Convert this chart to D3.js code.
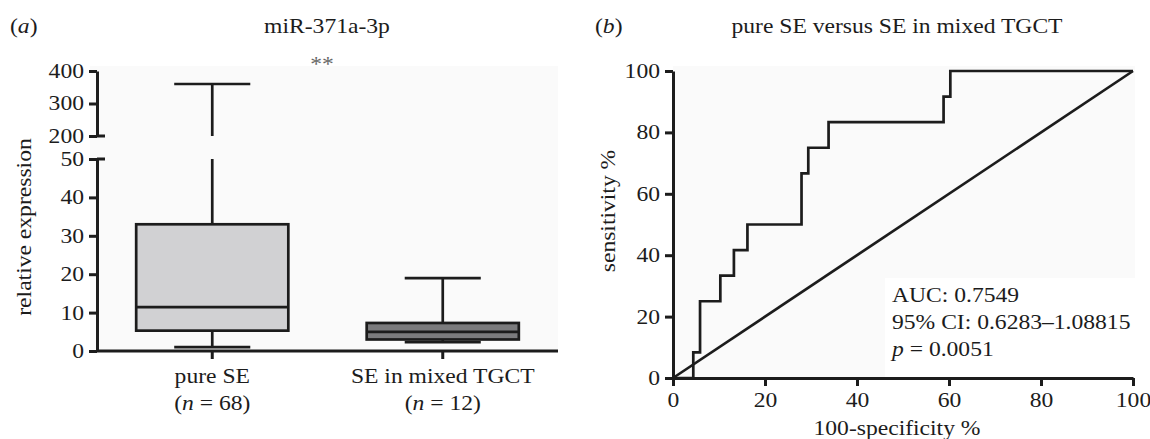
<!DOCTYPE html>
<html>
<head>
<meta charset="utf-8">
<script src="https://cdn.jsdelivr.net/npm/d3@7"></script>
<style>
  body { margin: 0; background: #fff; }
  svg { display: block; font-family: 'Liberation Serif', 'Times New Roman', serif; }
</style>
</head>
<body>
<div id="vis"></div>
<script>
// panel (a): box plot of miR-371a-3p
const groups = ['pure SE', 'SE in mixed TGCT']
const groupN = [68, 12]
const boxMin = [1, 2.3]
const boxQ1 = [5.3, 3]
const boxMedian = [11.4, 5]
const boxQ3 = [33, 7.3]
const boxMax = [360, 19]
const boxFill = ['#d1d1d3', '#7b7b7d']
const lowTicks = [0, 10, 20, 30, 40, 50]
const highTicks = [200, 300, 400]

// panel (b): ROC curve
const rocFpr = [0, 4.41, 4.41, 5.88, 5.88, 10.29, 10.29, 13.24, 13.24, 16.18, 16.18, 27.94, 27.94, 29.41, 29.41, 33.82, 33.82, 58.82, 58.82, 60.29, 60.29, 100]
const rocTpr = [0, 0, 8.33, 8.33, 25, 25, 33.33, 33.33, 41.67, 41.67, 50, 50, 66.67, 66.67, 75, 75, 83.33, 83.33, 91.67, 91.67, 100, 100]
const rocTicks = [0, 20, 40, 60, 80, 100]
const statsLines = ['AUC: 0.7549', '95% CI: 0.6283\u20131.08815', 'p = 0.0051']

const ink = '#1c1c1c'
const fontSize = 20
const sx = 1.18 // the original type is set a little wide
const axisStroke = 3
const markStroke = 2.7

const svg = d3.select('#vis').append('svg')
  .attr('width', 1150)
  .attr('height', 439)

// widen text horizontally around its anchor point
function stretch(sel) {
  sel.each(function () {
    const el = d3.select(this)
    const x = +el.attr('x') || 0
    const y = +el.attr('y') || 0
    const prev = el.attr('transform') || ''
    el.attr('x', null).attr('y', null)
      .attr('transform', `${prev} translate(${x},${y}) scale(${sx},1)`)
  })
}

function styleAxis(g) {
  g.select('.domain').attr('stroke', ink).attr('stroke-width', axisStroke)
  g.selectAll('.tick line').attr('stroke', ink).attr('stroke-width', axisStroke)
  g.selectAll('.tick text')
    .attr('fill', ink)
    .style('font-size', fontSize + 'px')
    .style('font-family', 'Liberation Serif, serif')
    .call(stretch)
}

function label(x, y, str, anchor) {
  return svg.append('text')
    .attr('x', x).attr('y', y)
    .attr('text-anchor', anchor || 'start')
    .attr('fill', ink)
    .style('font-size', fontSize + 'px')
    .text(str)
}

// ---------- panel (a) ----------
const yLow = d3.scaleLinear().domain([0, 50]).range([351, 159])
const yHigh = d3.scaleLinear().domain([200, 400]).range([136, 71])
const xBand = d3.scaleBand().domain(groups).range([97, 558])

svg.append('rect')
  .attr('x', 90).attr('y', 66)
  .attr('width', 468).attr('height', 285)
  .attr('fill', '#fafafa')

const lowAxis = svg.append('g')
  .attr('transform', 'translate(97,0)')
  .call(d3.axisLeft(yLow).tickValues(lowTicks).tickSize(8).tickSizeOuter(0).tickPadding(5))
styleAxis(lowAxis)

const highAxis = svg.append('g')
  .attr('transform', 'translate(97,0)')
  .call(d3.axisLeft(yHigh).tickValues(highTicks).tickSize(8).tickSizeOuter(0).tickPadding(5))
styleAxis(highAxis)

// break marks extend to the right
;[yLow(50), yHigh(200)].forEach(y => {
  svg.append('line')
    .attr('x1', 97).attr('x2', 105)
    .attr('y1', y).attr('y2', y)
    .attr('stroke', ink).attr('stroke-width', axisStroke)
})

const xAxisA = svg.append('g')
  .attr('transform', `translate(0,${yLow(0)})`)
  .call(d3.axisBottom(xBand).tickSize(8).tickSizeOuter(0).tickFormat(''))
styleAxis(xAxisA)
xAxisA.select('.domain').attr('d', 'M97,0H558')

// category labels
groups.forEach((name, i) => {
  const cx = xBand(name) + xBand.bandwidth() / 2
  label(cx, 383, name, 'middle').call(stretch)
  const t = label(cx, 410, '', 'middle')
  t.append('tspan').text('(')
  t.append('tspan').style('font-style', 'italic').text('n')
  t.append('tspan').text(' = ' + groupN[i] + ')')
  t.call(stretch)
})

// boxes
const boxW = xBand.bandwidth() * 0.66
const capW = xBand.bandwidth() * 0.33
groups.forEach((name, i) => {
  const cx = xBand(name) + xBand.bandwidth() / 2
  const g = svg.append('g')
    .attr('stroke', ink).attr('stroke-width', markStroke).attr('fill', 'none')

  // upper whisker (may cross the axis break)
  if (boxMax[i] > 50) {
    g.append('line').attr('x1', cx).attr('x2', cx)
      .attr('y1', yLow(boxQ3[i])).attr('y2', yLow(50))
    g.append('line').attr('x1', cx).attr('x2', cx)
      .attr('y1', yHigh(200)).attr('y2', yHigh(boxMax[i]))
    g.append('line').attr('x1', cx - capW / 2).attr('x2', cx + capW / 2)
      .attr('y1', yHigh(boxMax[i])).attr('y2', yHigh(boxMax[i]))
  } else {
    g.append('line').attr('x1', cx).attr('x2', cx)
      .attr('y1', yLow(boxQ3[i])).attr('y2', yLow(boxMax[i]))
    g.append('line').attr('x1', cx - capW / 2).attr('x2', cx + capW / 2)
      .attr('y1', yLow(boxMax[i])).attr('y2', yLow(boxMax[i]))
  }
  // lower whisker
  g.append('line').attr('x1', cx).attr('x2', cx)
    .attr('y1', yLow(boxQ1[i])).attr('y2', yLow(boxMin[i]))
  g.append('line').attr('x1', cx - capW / 2).attr('x2', cx + capW / 2)
    .attr('y1', yLow(boxMin[i])).attr('y2', yLow(boxMin[i]))

  g.append('rect')
    .attr('x', cx - boxW / 2)
    .attr('y', yLow(boxQ3[i]))
    .attr('width', boxW)
    .attr('height', yLow(boxQ1[i]) - yLow(boxQ3[i]))
    .attr('fill', boxFill[i])
  g.append('line').attr('x1', cx - boxW / 2).attr('x2', cx + boxW / 2)
    .attr('y1', yLow(boxMedian[i])).attr('y2', yLow(boxMedian[i]))
})

// titles and labels (a)
label(10, 33, '').call(t => {
  t.append('tspan').text('(')
  t.append('tspan').style('font-style', 'italic').text('a')
  t.append('tspan').text(')')
}).call(stretch)
label(327, 33, 'miR-371a-3p', 'middle').call(stretch)
label(322, 71, '**', 'middle').attr('fill', '#666').call(stretch)
svg.append('text')
  .attr('transform', 'translate(31,227) rotate(-90)')
  .attr('text-anchor', 'middle').attr('fill', ink)
  .style('font-size', fontSize + 'px')
  .text('relative expression')
  .call(stretch)

// ---------- panel (b) ----------
const xRoc = d3.scaleLinear().domain([0, 100]).range([673, 1133])
const yRoc = d3.scaleLinear().domain([0, 100]).range([378, 71])

svg.append('rect')
  .attr('x', 673).attr('y', 66)
  .attr('width', 462).attr('height', 312)
  .attr('fill', '#fafafa')
svg.append('rect')
  .attr('x', 885).attr('y', 278)
  .attr('width', 250).attr('height', 100)
  .attr('fill', '#fff')

const xAxisB = svg.append('g')
  .attr('transform', `translate(0,${yRoc(0)})`)
  .call(d3.axisBottom(xRoc).tickValues(rocTicks).tickSize(8).tickSizeOuter(0).tickPadding(7))
styleAxis(xAxisB)

const yAxisB = svg.append('g')
  .attr('transform', `translate(${xRoc(0)},0)`)
  .call(d3.axisLeft(yRoc).tickValues(rocTicks).tickSize(8).tickSizeOuter(0).tickPadding(5))
styleAxis(yAxisB)

// reference diagonal
svg.append('line')
  .attr('x1', xRoc(0)).attr('y1', yRoc(0))
  .attr('x2', xRoc(100)).attr('y2', yRoc(100))
  .attr('stroke', ink).attr('stroke-width', markStroke)

const rocPoints = rocFpr.map((f, i) => [f, rocTpr[i]])
svg.append('path')
  .datum(rocPoints)
  .attr('d', d3.line().x(d => xRoc(d[0])).y(d => yRoc(d[1])))
  .attr('fill', 'none')
  .attr('stroke', ink)
  .attr('stroke-width', markStroke)
  .attr('stroke-linejoin', 'miter')

// stats text
statsLines.forEach((line, i) => {
  const t = label(892, 302 + i * 27, '')
  if (line.startsWith('p ')) {
    t.append('tspan').style('font-style', 'italic').text('p')
    t.append('tspan').text(line.slice(1))
  } else {
    t.text(line)
  }
  t.call(stretch)
})

label(595, 33, '').call(t => {
  t.append('tspan').text('(')
  t.append('tspan').style('font-style', 'italic').text('b')
  t.append('tspan').text(')')
}).call(stretch)
label(897, 33, 'pure SE versus SE in mixed TGCT', 'middle').call(stretch)
svg.append('text')
  .attr('transform', 'translate(615,211) rotate(-90)')
  .attr('text-anchor', 'middle').attr('fill', ink)
  .style('font-size', fontSize + 'px')
  .text('sensitivity %')
  .call(stretch)
label(897, 435, '100-specificity %', 'middle').call(stretch)
</script>
</body>
</html>
